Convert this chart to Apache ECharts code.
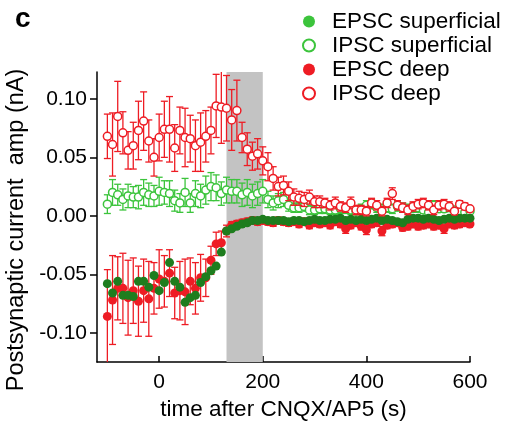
<!DOCTYPE html>
<html>
<head>
<meta charset="utf-8">
<script src="https://cdn.jsdelivr.net/npm/echarts@6/dist/echarts.min.js"></script>
<style>
  html, body { margin: 0; padding: 0; background: #fff; }
  #chart { width: 507px; height: 421px; }
</style>
</head>
<body>
<div id="chart"></div>
<script>
// time points (s)
const times = [-100, -90, -80, -70, -60, -50, -40, -30, -20, -10, 0, 10, 20, 30, 40, 50, 60, 70, 80, 90,
  100, 110, 120, 130, 140, 150, 160, 170, 180, 190, 200, 210, 220, 230, 240, 250, 260, 270, 280, 290,
  300, 310, 320, 330, 340, 350, 360, 370, 380, 390, 400, 410, 420, 430, 440, 450, 460, 470, 480, 490,
  500, 510, 520, 530, 540, 550, 560, 570, 580, 590, 600]

const ipscDeep = [0.068, 0.061, 0.085, 0.071, 0.056, 0.060, 0.073, 0.081, 0.064, 0.050, 0.067, 0.074, 0.074, 0.058, 0.073, 0.067, 0.066, 0.060, 0.063, 0.068,
  0.073, 0.094, 0.093, 0.092, 0.082, 0.090, 0.067, 0.057, 0.051, 0.053, 0.047, 0.042, 0.032, 0.025, 0.026, 0.021, 0.016, 0.015, 0.014, 0.016,
  0.012, 0.012, 0.011, 0.009, 0.011, 0.008, 0.007, 0.011, 0.005, 0.005, 0.004, 0.011, 0.009, 0.004, 0.011, 0.019, 0.009, 0.007, 0.005, 0.008,
  0.010, 0.011, 0.009, 0.005, 0.009, 0.010, 0.008, 0.004, 0.010, 0.008, 0.006]
const ipscDeepErr = [0.019, 0.027, 0.030, 0.018, 0.016, 0.020, 0.025, 0.025, 0.018, 0.016, 0.020, 0.024, 0.028, 0.020, 0.020, 0.025, 0.020, 0.022, 0.025, 0.022,
  0.020, 0.027, 0.031, 0.028, 0.026, 0.026, 0.013, 0.014, 0.012, 0.013, 0.012, 0.012, 0.010, 0.008, 0.008, 0.008, 0.007, 0.006, 0.006, 0.006,
  0.005, 0.005, 0.004, 0.004, 0.005, 0.004, 0.004, 0.005, 0.004, 0.004, 0.004, 0.004, 0.004, 0.004, 0.004, 0.005, 0.004, 0.004, 0.004, 0.004,
  0.004, 0.004, 0.004, 0.004, 0.004, 0.004, 0.004, 0.003, 0.003, 0.003, 0.003]

const ipscSup = [0.010, 0.020, 0.018, 0.014, 0.017, 0.016, 0.016, 0.020, 0.018, 0.017, 0.021, 0.020, 0.019, 0.013, 0.011, 0.020, 0.011, 0.019, 0.017, 0.022,
  0.025, 0.024, 0.019, 0.022, 0.021, 0.021, 0.018, 0.020, 0.017, 0.019, 0.021, 0.014, 0.011, 0.013, 0.014, 0.009, 0.007, 0.007, 0.008, 0.005,
  0.005, 0.006, 0.006, 0.005, 0.005, 0.006, 0.006, 0.005, 0.004, 0.006, 0.009, 0.010, 0.007, 0.006, 0.007, 0.006, 0.008, 0.007, 0.006, 0.007,
  0.007, 0.005, 0.003, 0.009, 0.006, 0.006, 0.007, 0.005, 0.003, 0.003, 0.004]
const ipscSupErr = [0.008, 0.011, 0.009, 0.009, 0.010, 0.009, 0.010, 0.011, 0.010, 0.009, 0.012, 0.010, 0.011, 0.009, 0.008, 0.012, 0.008, 0.011, 0.010, 0.012,
  0.012, 0.011, 0.010, 0.011, 0.010, 0.010, 0.010, 0.011, 0.010, 0.010, 0.010, 0.007, 0.006, 0.006, 0.006, 0.005, 0.004, 0.004, 0.004, 0.004,
  0.004, 0.004, 0.004, 0.004, 0.004, 0.004, 0.004, 0.004, 0.003, 0.004, 0.004, 0.004, 0.004, 0.004, 0.004, 0.004, 0.004, 0.004, 0.004, 0.004,
  0.004, 0.003, 0.003, 0.004, 0.003, 0.003, 0.003, 0.003, 0.003, 0.003, 0.003]

const epscDeep = [-0.086, -0.072, -0.062, -0.062, -0.070, -0.064, -0.073, -0.064, -0.071, -0.062, -0.054, -0.056, -0.049, -0.066, -0.064, -0.065, -0.056, -0.062, -0.053, -0.053,
  -0.038, -0.024, -0.023, -0.013, -0.008, -0.007, -0.006, -0.005, -0.004, -0.005, -0.004, -0.005, -0.006, -0.004, -0.005, -0.006, -0.005, -0.007, -0.005, -0.008,
  -0.006, -0.007, -0.006, -0.008, -0.005, -0.007, -0.011, -0.008, -0.006, -0.009, -0.012, -0.007, -0.006, -0.013, -0.008, -0.007, -0.006, -0.010, -0.009, -0.007,
  -0.009, -0.008, -0.007, -0.009, -0.008, -0.011, -0.007, -0.008, -0.007, -0.006, -0.007]
const epscDeepErr = [0.040, 0.038, 0.027, 0.030, 0.032, 0.028, 0.030, 0.027, 0.032, 0.022, 0.025, 0.022, 0.020, 0.022, 0.025, 0.028, 0.020, 0.022, 0.020, 0.016,
  0.012, 0.010, 0.010, 0.005, 0.003, 0.003, 0.003, 0.003, 0.003, 0.003, 0.003, 0.003, 0.003, 0.003, 0.003, 0.003, 0.003, 0.003, 0.003, 0.003,
  0.003, 0.003, 0.003, 0.003, 0.003, 0.003, 0.004, 0.003, 0.003, 0.003, 0.004, 0.003, 0.003, 0.004, 0.003, 0.003, 0.003, 0.003, 0.003, 0.003,
  0.003, 0.003, 0.003, 0.003, 0.003, 0.004, 0.003, 0.003, 0.003, 0.003, 0.003]

const epscSup = [-0.058, -0.066, -0.056, -0.068, -0.068, -0.069, -0.056, -0.056, -0.061, -0.051, -0.064, -0.057, -0.040, -0.056, -0.061, -0.074, -0.070, -0.068, -0.057, -0.052,
  -0.047, -0.043, -0.031, -0.013, -0.011, -0.009, -0.007, -0.006, -0.004, -0.004, -0.003, -0.004, -0.004, -0.004, -0.004, -0.005, -0.004, -0.004, -0.005, -0.004,
  -0.003, -0.004, -0.004, -0.003, -0.003, -0.002, -0.004, -0.003, -0.004, -0.003, -0.004, -0.003, -0.002, -0.004, -0.003, -0.004, -0.005, -0.006, -0.003, -0.002,
  -0.002, -0.003, -0.002, -0.003, -0.004, -0.003, -0.002, -0.003, -0.002, -0.002, -0.002]

const xTicks = [0, 200, 400, 600]
const yTicks = [-0.10, -0.05, 0.00, 0.05, 0.10]
const drugWindow = [130, 200]

const RED = '#ee1c24'
const GREEN_LIGHT = '#3cc43c'
const GREEN_DARK = '#1e7d1e'
const FONT = 'Liberation Sans'

function pts(vals) {
    return times.map((t, i) => [t, vals[i]])
}
function bars(vals, errs) {
    return times.map((t, i) => [t, vals[i], errs[i]])
}

function errBars(color) {
    return function (params, api) {
        let x = api.value(0), v = api.value(1), e = api.value(2)
        let top = api.coord([x, v + e])
        let bot = api.coord([x, v - e])
        let hw = 3.5
        let st = { stroke: color, lineWidth: 1.3 }
        return {
            type: 'group',
            children: [
                { type: 'line', shape: { x1: top[0], y1: top[1], x2: bot[0], y2: bot[1] }, style: st },
                { type: 'line', shape: { x1: top[0] - hw, y1: top[1], x2: top[0] + hw, y2: top[1] }, style: st },
                { type: 'line', shape: { x1: bot[0] - hw, y1: bot[1], x2: bot[0] + hw, y2: bot[1] }, style: st }
            ]
        }
    }
}

let chart = echarts.init(document.getElementById('chart'), null, { renderer: 'canvas' })

let option = {
    animation: false,
    backgroundColor: '#fff',
    textStyle: { fontFamily: FONT },
    title: {
        text: 'c',
        left: 10,
        top: 0,
        textStyle: { fontFamily: FONT, fontWeight: 'bold', fontSize: 28, color: '#000' }
    },
    legend: {
        orient: 'vertical',
        left: 297,
        top: 5,
        itemGap: 1,
        itemWidth: 12,
        itemHeight: 12,
        textStyle: { fontFamily: FONT, fontSize: 22.5, color: '#000', padding: [0, 0, 0, 12] },
        data: [
            { name: 'EPSC superficial', icon: 'circle', itemStyle: { color: GREEN_LIGHT, borderWidth: 0 } },
            { name: 'IPSC superficial', icon: 'circle' },
            { name: 'EPSC deep', icon: 'circle' },
            { name: 'IPSC deep', icon: 'circle' }
        ]
    },
    grid: { left: 97, right: 37, top: 72, bottom: 59, outerBoundsMode: 'none' },
    xAxis: {
        type: 'value',
        min: -120,
        max: 600,
        name: 'time after CNQX/AP5 (s)',
        nameLocation: 'middle',
        nameGap: 34,
        nameTextStyle: { fontFamily: FONT, fontSize: 22.5, color: '#000' },
        axisLine: { onZero: false, lineStyle: { color: '#000', width: 1.5 } },
        axisTick: { inside: true, length: 6, customValues: xTicks, lineStyle: { color: '#000', width: 1.5 } },
        axisLabel: { customValues: xTicks, margin: 10, fontFamily: FONT, fontSize: 21, color: '#000' },
        splitLine: { show: false }
    },
    yAxis: {
        type: 'value',
        min: -0.125,
        max: 0.123,
        name: 'Postsynaptic current  amp (nA)',
        nameLocation: 'middle',
        nameGap: 68,
        nameTextStyle: { fontFamily: FONT, fontSize: 23.5, color: '#000', padding: [0, 26, 0, 0] },
        axisLine: { show: true, onZero: false, lineStyle: { color: '#000', width: 1.5 } },
        axisTick: { show: true, length: 7, customValues: yTicks, lineStyle: { color: '#000', width: 1.5 } },
        axisLabel: {
            customValues: yTicks, margin: 10, fontFamily: FONT, fontSize: 21, color: '#000',
            formatter: v => v.toFixed(2)
        },
        splitLine: { show: false }
    },
    series: [
        {
            name: 'band',
            type: 'line',
            data: [],
            z: 1,
            markArea: {
                silent: true,
                itemStyle: { color: '#c3c3c3' },
                data: [[{ xAxis: drugWindow[0] }, { xAxis: drugWindow[1] }]]
            }
        },
        {
            type: 'custom', name: 'IPSC superficial err', clip: true, z: 2,
            renderItem: errBars(GREEN_LIGHT), encode: { x: 0, y: 1 },
            data: bars(ipscSup, ipscSupErr)
        },
        {
            name: 'IPSC superficial', type: 'scatter', z: 3, symbol: 'circle', symbolSize: 8,
            itemStyle: { color: '#fff', borderColor: GREEN_LIGHT, borderWidth: 1.5, opacity: 1 },
            data: pts(ipscSup)
        },
        {
            type: 'custom', name: 'EPSC deep err', clip: true, z: 4,
            renderItem: errBars(RED), encode: { x: 0, y: 1 },
            data: bars(epscDeep, epscDeepErr)
        },
        {
            name: 'EPSC deep', type: 'scatter', z: 5, symbol: 'circle', symbolSize: 9,
            itemStyle: { color: RED, opacity: 1 },
            data: pts(epscDeep)
        },
        {
            name: 'EPSC superficial', type: 'scatter', z: 6, symbol: 'circle', symbolSize: 9,
            itemStyle: { color: GREEN_DARK, opacity: 1 },
            data: pts(epscSup)
        },
        {
            type: 'custom', name: 'IPSC deep err', clip: true, z: 7,
            renderItem: errBars(RED), encode: { x: 0, y: 1 },
            data: bars(ipscDeep, ipscDeepErr)
        },
        {
            name: 'IPSC deep', type: 'scatter', z: 8, symbol: 'circle', symbolSize: 8,
            itemStyle: { color: '#fff', borderColor: RED, borderWidth: 1.5, opacity: 1 },
            data: pts(ipscDeep)
        }
    ]
}

chart.setOption(option)
</script>
</body>
</html>
